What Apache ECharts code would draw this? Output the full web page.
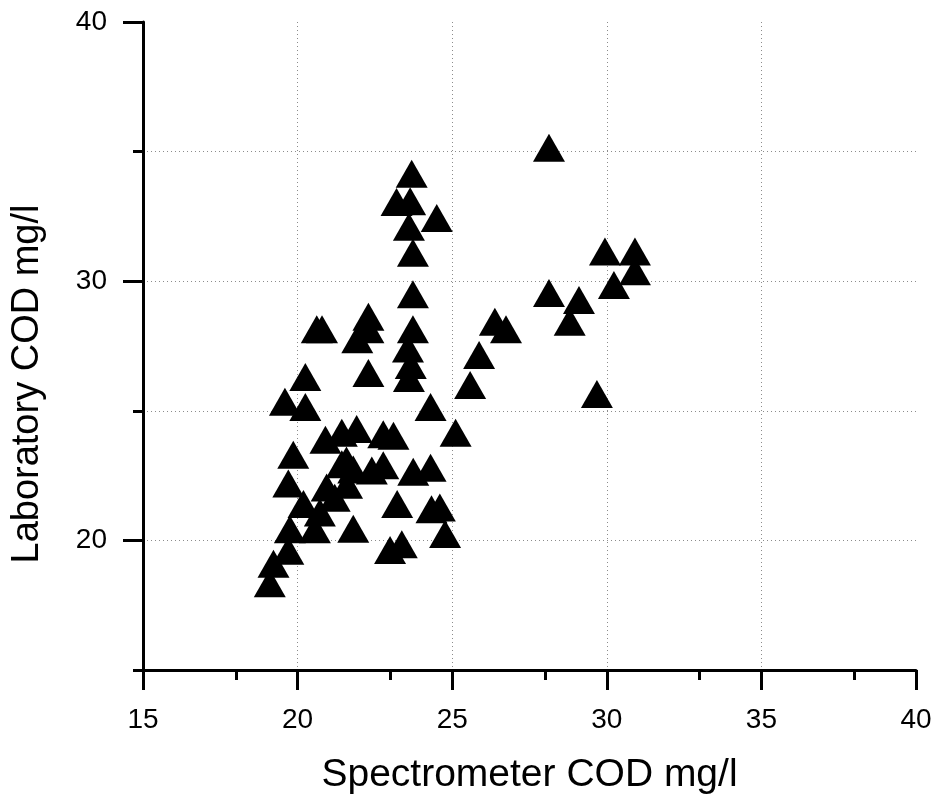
<!DOCTYPE html>
<html>
<head>
<meta charset="utf-8">
<script src="https://cdn.jsdelivr.net/npm/echarts@6/dist/echarts.min.js"></script>
<style>
  html, body { margin: 0; padding: 0; background: #fff; }
  #chart { width: 935px; height: 800px; }
</style>
</head>
<body>
<div id="chart"></div>
<script>
// 光谱仪 COD 与实验室 COD (mg/l)
const spectrometer = [
  28.13, 23.69, 23.2, 23.64, 24.5, 23.6, 23.73, 23.73,
  20.62, 20.79, 22.29, 22.29, 21.93, 23.73, 23.57, 23.66, 23.6, 22.29, 20.25,
  26.38, 26.74, 25.87, 25.58, 28.13, 29.1, 28.8, 29.94, 30.91, 30.91, 30.23, 29.68,
  19.59, 20.25, 24.3, 25.11,
  20.9, 21.43, 21.91, 22.77, 23.1, 19.86, 21.58,
  21.43, 21.8, 22.4, 22.77, 23.74, 24.3,
  19.7, 20.94, 21.6, 21.2, 20.19, 20.72, 23.22, 24.33, 24.6,
  19.75, 20.56, 21.8, 24.77, 19.7, 22.99, 23.37, 19.22, 19.1
];
const laboratory = [
  35.15, 34.15, 33.06, 33.08, 32.44, 32.1, 31.1, 29.5,
  28.15, 28.15, 28.63, 28.15, 27.76, 28.15, 27.4, 26.77, 26.27, 26.46, 26.3,
  28.44, 28.15, 27.15, 26.0, 29.54, 29.27, 28.44, 31.15, 31.15, 30.38, 29.85, 25.65,
  25.35, 25.15, 25.15, 24.15,
  23.88, 24.15, 24.3, 24.1, 24.04, 23.3, 23.08,
  22.94, 22.74, 22.7, 22.9, 22.65, 22.8,
  22.2, 22.04, 22.15, 21.65, 21.4, 21.08, 21.4, 21.2, 21.27,
  20.43, 20.43, 20.45, 20.25, 19.6, 19.63, 19.85, 19.1, 18.35
];
const xMajorTicks = [15, 20, 25, 30, 35, 40];
const xMinorTicks = [18, 23, 28, 33, 38];
const yMajorTicks = [20, 30, 40];
const yMinorTicks = [15, 25, 35];

const points = spectrometer.map((x, i) => [x, laboratory[i]]);

const font = 'Liberation Sans, Arial, sans-serif';
const gridLine = { show: true, showMinLine: false, showMaxLine: false,
  lineStyle: { color: '#8c8c8c', width: 1, type: [1, 3] } };

const chart = echarts.init(document.getElementById('chart'));
chart.setOption({
  animation: false,
  backgroundColor: '#fff',
  grid: { left: 143, right: 19, top: 22, bottom: 128, containLabel: false },
  xAxis: [
    {
      type: 'value', min: 15, max: 40, interval: 5,
      name: 'Spectrometer COD mg/l', nameLocation: 'middle', nameGap: 86,
      nameTextStyle: { fontFamily: font, fontSize: 39, color: '#000' },
      axisLine: { lineStyle: { color: '#000', width: 3 } },
      axisTick: { show: true, length: 20, inside: false, customValues: xMajorTicks,
        lineStyle: { color: '#000', width: 3 } },
      axisLabel: { margin: 36, fontFamily: font, fontSize: 28, color: '#000' },
      splitLine: gridLine
    },
    {
      type: 'value', min: 15, max: 40, position: 'bottom',
      axisLine: { show: false },
      axisTick: { show: true, length: 10, customValues: xMinorTicks,
        lineStyle: { color: '#000', width: 3 } },
      axisLabel: { show: false },
      splitLine: { show: false }
    }
  ],
  yAxis: [
    {
      type: 'value', min: 15, max: 40, interval: 5,
      name: 'Laboratory COD mg/l', nameLocation: 'middle', nameGap: 96,
      nameTextStyle: { fontFamily: font, fontSize: 38, color: '#000', padding: [0, 76, 0, 0] },
      axisLine: { show: true, lineStyle: { color: '#000', width: 3 } },
      axisTick: { show: false },
      axisLabel: { margin: 36, fontFamily: font, fontSize: 28, color: '#000',
        formatter: v => (v % 10 === 0 ? String(v) : '') },
      splitLine: gridLine
    },
    {
      type: 'value', min: 15, max: 40, position: 'left',
      axisLine: { show: false },
      axisTick: { show: true, length: 20, customValues: yMajorTicks,
        lineStyle: { color: '#000', width: 3 } },
      axisLabel: { show: false },
      splitLine: { show: false }
    },
    {
      type: 'value', min: 15, max: 40, position: 'left',
      axisLine: { show: false },
      axisTick: { show: true, length: 10, customValues: yMinorTicks,
        lineStyle: { color: '#000', width: 3 } },
      axisLabel: { show: false },
      splitLine: { show: false }
    }
  ],
  series: [
    {
      type: 'scatter',
      xAxisIndex: 0,
      yAxisIndex: 0,
      symbol: 'triangle',
      symbolSize: [32, 28],
      itemStyle: { color: '#000', opacity: 1 },
      data: points
    }
  ]
});
</script>
</body>
</html>
